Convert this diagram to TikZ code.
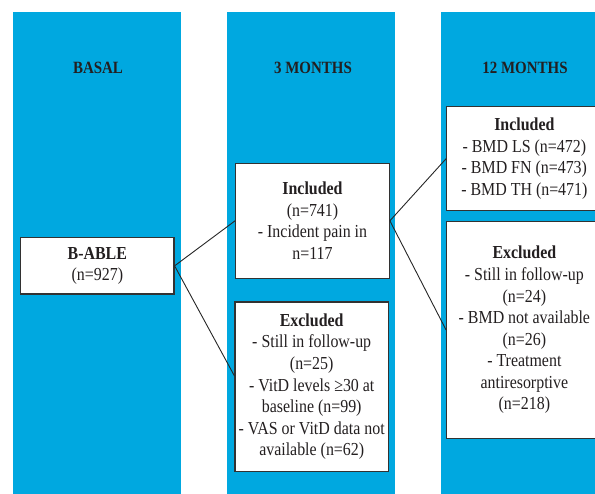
\documentclass[tikz,border=0pt]{standalone}
\usepackage{fontspec}
\setmainfont[FakeStretch=0.87]{Liberation Serif}
\usetikzlibrary{calc}
\definecolor{colblue}{RGB}{0,168,224}
\definecolor{boxline}{RGB}{50,50,50}
\definecolor{txt}{RGB}{35,31,32}
\tikzset{
  column/.style={fill=colblue, draw=none},
  heading/.style={font=\fontsize{17.2}{20}\selectfont\bfseries, text=txt},
  flowbox/.style={draw=boxline, line width=1.2pt, fill=white, align=center, inner sep=0pt,
    text=txt, font=\fontsize{18.3}{21.6}\selectfont},
  link/.style={draw=black!85, line width=0.9pt}
}
\begin{document}
\begin{tikzpicture}[x=1pt,y=-1pt]
\useasboundingbox (0,0) rectangle (595,494);
\clip (0,0) rectangle (595,494);
% columns
\fill[column] (12.7,12.3) rectangle (181,494);
\fill[column] (227,12.3) rectangle (395,494);
\fill[column] (441,12.3) rectangle (607,494);
% headings
\node[heading] (h1) at (98,68) {BASAL};
\node[heading] (h2) at (313,68) {3 MONTHS};
\node[heading] (h3) at (525,68) {12 MONTHS};
% boxes
\node[flowbox, minimum width=153.3pt, minimum height=56.3pt] (babl) at (97.35,265.85)
  {\textbf{B-ABLE}\\(n=927)};
\node[flowbox, minimum width=153.6pt, minimum height=115pt] (inc3) at (312.5,220.8)
  {\textbf{Included}\\(n=741)\\- Incident pain in\\n=117};
\node[flowbox, minimum width=153.3pt, minimum height=169.5pt] (exc3) at (311.7,386.7)
  {\textbf{Excluded}\\- Still in follow-up\\(n=25)\\- VitD levels ≥30 at\\baseline (n=99)\\- VAS or VitD data not\\available (n=62)};
\node[flowbox, minimum width=155.3pt, minimum height=104pt] (inc12) at (524.35,158.7)
  {\textbf{Included}\\- BMD LS (n=472)\\- BMD FN (n=473)\\- BMD TH (n=471)};
\node[flowbox, minimum width=155.3pt, minimum height=216.6pt] (exc12) at (524.35,330)
  {\textbf{Excluded}\\- Still in follow-up\\(n=24)\\- BMD not available\\(n=26)\\- Treatment\\antiresorptive\\(n=218)};
% connectors
\coordinate (exc3in) at ($(exc3.north west)!0.437!(exc3.south west)$);
\draw[link] (babl.east) -- (inc3.west);
\draw[link] (babl.east) -- (exc3in);
\draw[link] (inc3.east) -- (inc12.west);
\draw[link] (inc3.east) -- (exc12.west);
\end{tikzpicture}
\end{document}
